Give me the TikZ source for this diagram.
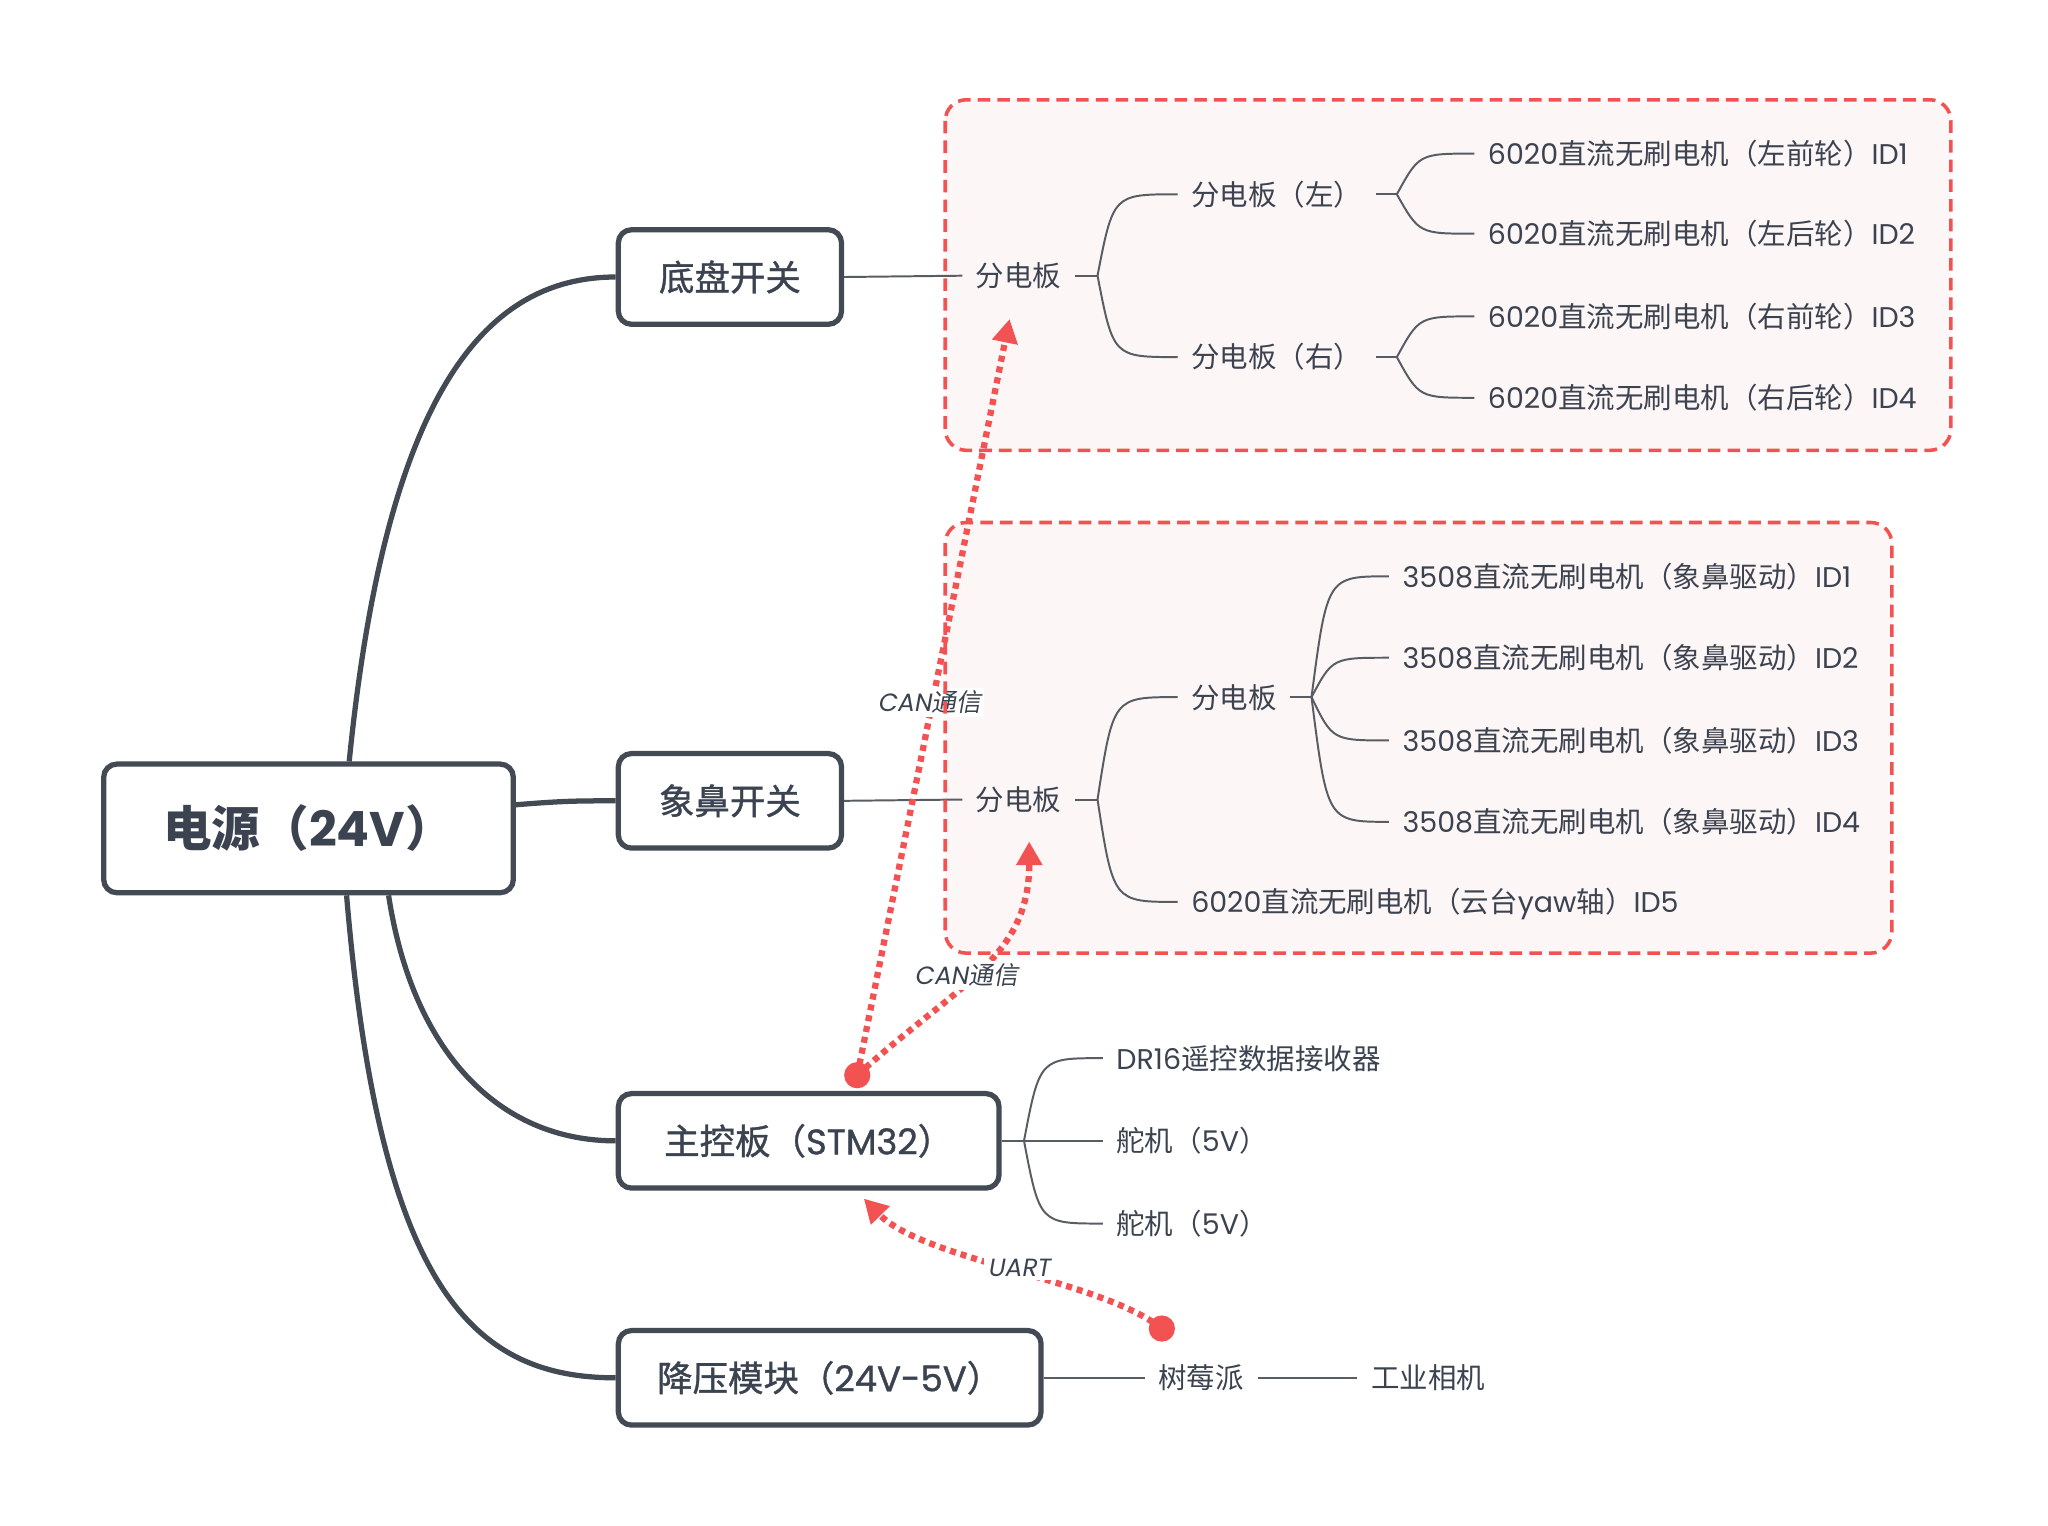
\documentclass[tikz,border=0pt]{standalone}
\usepackage{fontspec}
\setmainfont{Noto Sans CJK SC}
\newfontfamily\cjkit[FakeSlant=0.18]{Noto Sans CJK SC}
\newfontfamily\cjkmid[FakeBold=1.1]{Noto Sans CJK SC}
\newfontfamily\popr{Poppins}
\newfontfamily\popm[FakeBold=1.1]{Poppins}
\newfontfamily\popb{Poppins}
\newfontfamily\popi[FakeSlant=0.18]{Poppins}
\usetikzlibrary{arrows.meta}
\definecolor{dk}{HTML}{434A54}
\definecolor{tx}{HTML}{3C4350}
\definecolor{ln}{HTML}{585D64}
\definecolor{rd}{HTML}{F25252}
\definecolor{pk}{HTML}{FDF6F6}
\tikzset{
  lvzero/.style={rectangle, draw=dk, line width=2pt, rounded corners=5pt, fill=white, text=tx,
    font=\bfseries\fontsize{18.5}{22}\selectfont, minimum width=156pt, minimum height=49pt, inner sep=0pt},
  lvone/.style={rectangle, draw=dk, line width=2pt, rounded corners=5pt, fill=white, text=tx,
    font=\cjkmid\fontsize{13.5}{16}\selectfont, minimum height=36pt, inner sep=0pt},
  leaf/.style={text=tx, font=\fontsize{10.85}{13}\selectfont, inner xsep=5pt, inner ysep=0pt,
    text height=9.6pt, text depth=1.3pt, anchor=west},
  thickln/.style={draw=dk, line width=2pt},
  thinln/.style={draw=ln, line width=0.75pt},
  rbox/.style={draw=rd, line width=1.35pt, dash pattern=on 4.8pt off 2.7pt, rounded corners=8pt},
  rconn/.style={draw=rd, line width=2.4pt, dash pattern=on 2.3pt off 1.9pt,
    -{Triangle[length=9pt,width=9.5pt]}},
  lab/.style={text=tx, font=\cjkit\fontsize{9.5}{11}\selectfont, fill=white, inner sep=1.2pt},
}
\begin{document}
\begin{tikzpicture}[x=0.5pt, y=-0.5pt]
\fill[white] (0,0) rectangle (1560,1162);
\useasboundingbox (0,0) rectangle (1560,1162);

% pink group backgrounds
\fill[pk, rounded corners=8pt] (720,76) rectangle (1486,343);
\fill[pk, rounded corners=8pt] (720,398) rectangle (1441,726);

% main nodes
\node[lvzero] (main) at (235,631) {电源（{\popb\bfseries 24V}）};
\node[lvone, minimum width=85pt] (dp) at (556,211) {底盘开关};
\node[lvone, minimum width=85pt] (xb) at (556,610) {象鼻开关};
\node[lvone, minimum width=145pt] (zk) at (616,869) {主控板（{\popm STM32}）};
\node[lvone, minimum width=161pt] (jy) at (632,1049.5) {降压模块（{\popm 24V-5V}）};

% thick connectors
\draw[thickln] ([xshift=15.5pt]main.north) .. controls (294,300) and (369,211) .. (dp.west);
\draw[thickln] ([yshift=9pt]main.east) .. controls (430,610) and (440,610) .. (xb.west);
\draw[thickln] ([xshift=30.5pt]main.south) .. controls (314,800) and (379,869) .. (zk.west);
\draw[thickln] ([xshift=14.5pt]main.south) .. controls (289,980) and (359,1049.5) .. (jy.west);

% chassis tree
\node[leaf] (fda) at (733,210) {分电板};
\coordinate (ba) at (836,210);
\node[leaf] (fdl) at (897,148) {分电板（左）};
\node[leaf] (fdr) at (897,272) {分电板（右）};
\coordinate (bl) at (1064,148);
\coordinate (br) at (1064,272);
\node[leaf] (ma) at (1123,117) {{\popr 6020}直流无刷电机（左前轮）{\popr ID1}};
\node[leaf] (mb) at (1123,178) {{\popr 6020}直流无刷电机（左后轮）{\popr ID2}};
\node[leaf] (mc) at (1123,241) {{\popr 6020}直流无刷电机（右前轮）{\popr ID3}};
\node[leaf] (md) at (1123,303) {{\popr 6020}直流无刷电机（右后轮）{\popr ID4}};
\draw[thinln] (dp.east) -- (fda.west);
\draw[thinln] (fda.east) -- (ba);
\draw[thinln] (ba) .. controls (848,148) .. (fdl.west);
\draw[thinln] (ba) .. controls (848,272) .. (fdr.west);
\draw[thinln] (fdl.east) -- (bl);
\draw[thinln] (fdr.east) -- (br);
\draw[thinln] (bl) .. controls (1081,117) .. (ma.west);
\draw[thinln] (bl) .. controls (1081,178) .. (mb.west);
\draw[thinln] (br) .. controls (1081,241) .. (mc.west);
\draw[thinln] (br) .. controls (1081,303) .. (md.west);

% trunk tree
\node[leaf] (fdb) at (733,609) {分电板};
\coordinate (bb) at (836,609);
\node[leaf] (fdc) at (897,531) {分电板};
\node[leaf] (yaw) at (897,687) {{\popr 6020}直流无刷电机（云台{\popr yaw}轴）{\popr ID5}};
\coordinate (bc) at (999,531);
\node[leaf] (ka) at (1058,439) {{\popr 3508}直流无刷电机（象鼻驱动）{\popr ID1}};
\node[leaf] (kb) at (1058,501) {{\popr 3508}直流无刷电机（象鼻驱动）{\popr ID2}};
\node[leaf] (kc) at (1058,564) {{\popr 3508}直流无刷电机（象鼻驱动）{\popr ID3}};
\node[leaf] (kd) at (1058,626) {{\popr 3508}直流无刷电机（象鼻驱动）{\popr ID4}};
\draw[thinln] (xb.east) -- (fdb.west);
\draw[thinln] (fdb.east) -- (bb);
\draw[thinln] (bb) .. controls (848,531) .. (fdc.west);
\draw[thinln] (bb) .. controls (848,687) .. (yaw.west);
\draw[thinln] (fdc.east) -- (bc);
\draw[thinln] (bc) .. controls (1011,439) .. (ka.west);
\draw[thinln] (bc) .. controls (1015,501) .. (kb.west);
\draw[thinln] (bc) .. controls (1015,564) .. (kc.west);
\draw[thinln] (bc) .. controls (1011,626) .. (kd.west);

% main control tree
\coordinate (bd) at (780,869);
\node[leaf] (dr) at (840,806) {{\popr DR16}遥控数据接收器};
\node[leaf] (sa) at (840,869) {舵机（{\popr 5V}）};
\node[leaf] (sb) at (840,932) {舵机（{\popr 5V}）};
\draw[thinln] (zk.east) -- (bd);
\draw[thinln] (bd) .. controls (792,806) .. (dr.west);
\draw[thinln] (bd) -- (sa.west);
\draw[thinln] (bd) .. controls (792,932) .. (sb.west);

% buck tree
\node[leaf] (rp) at (872,1049.5) {树莓派};
\node[leaf] (cam) at (1034,1049.5) {工业相机};
\draw[thinln] (jy.east) -- (rp.west);
\draw[thinln] (rp.east) -- (cam.west);

% red connectors
\coordinate (da) at (653,819);
\coordinate (ta) at (769,243);
\coordinate (tb) at (784,641);
\coordinate (du) at (885,1012);
\coordinate (tu) at (658,913);
\draw[rconn] (da) -- (ta);
\draw[rconn] (da) .. controls (729,750) and (784,730) .. (tb);
\draw[rconn] (du) .. controls (839,975) and (704,960) .. (tu);
\node[lab] (la) at (708,535) {{\popi CAN}通信};
\node[lab] (lb) at (736,743) {{\popi CAN}通信};
\node[lab] (lu) at (776,966) {{\popi UART}};

% red dashed group borders
\draw[rbox] (720,76) rectangle (1486,343);
\draw[rbox] (720,398) rectangle (1441,726);

% dots
\fill[rd] (da) circle (5pt);
\fill[rd] (du) circle (5pt);
\end{tikzpicture}
\end{document}
